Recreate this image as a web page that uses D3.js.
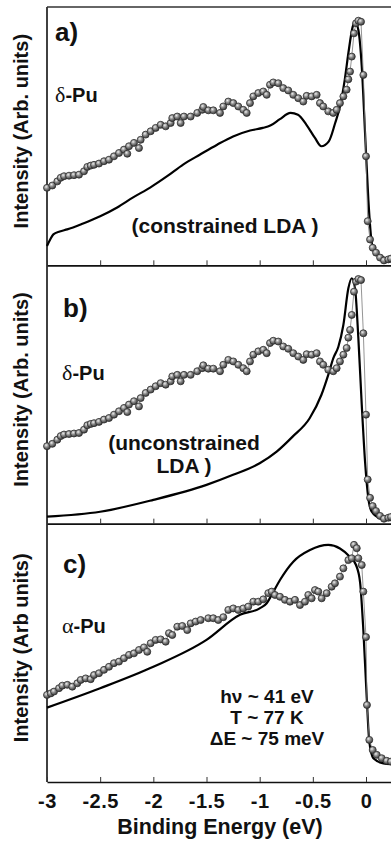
<!DOCTYPE html>
<html>
<head>
<meta charset="utf-8">
<script src="https://cdn.jsdelivr.net/npm/d3@7"></script>
<style>
  body { margin: 0; background: #fff; }
  svg { display: block; }
  text { font-family: "Liberation Sans", Arial, sans-serif; font-weight: bold; fill: #111; }
  .greek { font-family: "Liberation Serif", "DejaVu Serif", serif; font-weight: normal; }
</style>
</head>
<body>
<div id="chart"></div>
<script>
// binding energy ticks (eV)
const xTicks = [-3, -2.5, -2, -1.5, -1, -0.5, 0];

// measured photoemission, delta-Pu  [E (eV), intensity]
const deltaPuExp = [
  [-3.000,30.0],[-2.950,30.9],[-2.903,32.5],[-2.871,33.9],[-2.840,34.5],[-2.793,34.7],[-2.746,34.9],
  [-2.699,35.1],[-2.652,36.4],[-2.621,38.1],[-2.589,38.6],[-2.558,38.9],[-2.511,39.4],[-2.464,40.3],
  [-2.417,40.9],[-2.370,42.2],[-2.323,43.5],[-2.276,44.8],[-2.245,43.2],[-2.229,46.1],[-2.182,47.4],
  [-2.135,45.4],[-2.119,48.6],[-2.072,50.6],[-2.025,51.9],[-1.978,53.2],[-1.931,54.4],[-1.884,53.8],
  [-1.837,55.1],[-1.822,57.0],[-1.775,57.6],[-1.743,55.1],[-1.712,57.6],[-1.649,57.6],[-1.587,59.0],
  [-1.540,60.2],[-1.530,61.3],[-1.483,60.0],[-1.436,60.0],[-1.373,59.0],[-1.342,61.5],[-1.295,63.4],
  [-1.248,62.8],[-1.201,61.5],[-1.154,60.2],[-1.122,59.0],[-1.091,62.8],[-1.060,65.4],[-1.013,66.7],
  [-0.966,67.3],[-0.934,66.0],[-0.903,69.9],[-0.872,70.8],[-0.825,70.5],[-0.778,68.6],[-0.731,67.7],
  [-0.684,66.0],[-0.637,64.7],[-0.590,63.4],[-0.558,65.6],[-0.511,65.4],[-0.464,66.0],[-0.433,62.8],
  [-0.402,61.5],[-0.355,59.6],[-0.308,59.0],[-0.276,60.2],[-0.245,62.8],[-0.213,65.4],[-0.182,68.0],
  [-0.166,72.0],[-0.150,75.0],[-0.134,80.8],[-0.113,89.8],[-0.094,93.7],[-0.072,94.7],[-0.047,94.3],
  [-0.025,73.7],[0.000,42.2],[0.016,17.1],[0.038,10.0],[0.063,6.8],[0.094,4.9],[0.132,3.0],
  [0.169,1.9],[0.210,2.3],[0.235,2.6]
];

// measured photoemission, alpha-Pu
const alphaPuExp = [
  [-3.000,33.7],[-2.965,34.3],[-2.934,35.0],[-2.887,36.3],[-2.856,37.3],[-2.809,37.6],[-2.762,36.9],
  [-2.715,38.2],[-2.683,39.5],[-2.636,40.1],[-2.589,39.8],[-2.558,41.4],[-2.511,42.1],[-2.464,43.4],
  [-2.417,44.6],[-2.370,46.0],[-2.323,46.6],[-2.276,47.9],[-2.229,49.2],[-2.182,49.8],[-2.135,51.1],
  [-2.088,52.1],[-2.057,50.4],[-2.025,53.7],[-1.978,55.0],[-1.931,55.2],[-1.884,54.3],[-1.853,57.6],
  [-1.822,56.9],[-1.775,60.1],[-1.728,60.4],[-1.681,58.8],[-1.649,61.4],[-1.602,62.1],[-1.555,62.7],
  [-1.483,63.4],[-1.436,63.4],[-1.389,62.7],[-1.342,63.8],[-1.295,66.6],[-1.248,67.2],[-1.201,66.6],
  [-1.154,67.2],[-1.107,67.9],[-1.060,69.8],[-1.013,69.8],[-0.966,70.7],[-0.919,73.1],[-0.887,73.7],
  [-0.856,72.4],[-0.809,71.7],[-0.762,70.5],[-0.715,69.8],[-0.668,70.5],[-0.621,68.5],[-0.574,69.8],
  [-0.543,72.4],[-0.511,71.1],[-0.480,74.3],[-0.449,73.7],[-0.417,71.1],[-0.370,73.1],[-0.323,75.6],
  [-0.292,76.9],[-0.245,79.5],[-0.213,82.7],[-0.166,85.9],[-0.134,86.6],[-0.113,91.8],[-0.087,90.5],
  [-0.072,86.6],[-0.040,84.0],[-0.025,73.7],[0.000,56.1],[0.009,29.8],[0.031,16.3],[0.063,12.4],
  [0.101,10.5],[0.148,9.2],[0.195,8.2],[0.235,7.9]
];

// LDA spectra
const constrainedLDA = [
  [-3.000,7.5],[-2.970,10.0],[-2.940,12.0],[-2.880,13.1],[-2.810,13.9],[-2.660,16.2],[-2.500,19.0],
  [-2.340,22.4],[-2.190,26.3],[-2.030,30.1],[-1.870,34.5],[-1.720,39.0],[-1.560,42.9],[-1.400,46.7],
  [-1.250,49.9],[-1.090,52.2],[-0.970,53.2],[-0.900,54.1],[-0.810,56.6],[-0.710,59.0],[-0.640,58.3],
  [-0.560,54.4],[-0.480,49.3],[-0.420,46.1],[-0.350,48.0],[-0.290,55.1],[-0.245,61.5],[-0.200,71.8],
  [-0.166,82.1],[-0.125,92.4],[-0.103,94.3],[-0.072,91.1],[-0.040,77.0],[-0.009,51.2],[0.022,25.5],
  [0.054,8.8],[0.085,4.9],[0.163,3.0],[0.235,2.3]
];
const unconstrainedLDA = [
  [-3.000,2.7],[-2.500,4.6],[-2.000,9.2],[-1.500,15.0],[-1.250,18.9],[-1.000,23.4],[-0.840,27.9],
  [-0.690,33.7],[-0.530,40.8],[-0.420,49.8],[-0.355,57.6],[-0.308,64.0],[-0.260,68.5],[-0.213,76.9],
  [-0.166,91.1],[-0.134,95.0],[-0.103,91.1],[-0.072,71.8],[-0.040,46.0],[-0.009,24.0],[0.022,9.8],
  [0.054,4.6],[0.132,2.1],[0.235,1.4]
];
const alphaLDA = [
  [-3.000,28.8],[-2.500,36.3],[-2.000,44.6],[-1.500,55.0],[-1.185,64.7],[-1.000,67.2],[-0.934,69.2],
  [-0.887,72.4],[-0.809,78.2],[-0.684,85.3],[-0.527,89.8],[-0.355,91.8],[-0.245,90.4],[-0.150,87.1],
  [-0.094,84.0],[-0.056,77.4],[-0.025,58.8],[0.007,32.4],[0.031,15.6],[0.069,9.2],[0.163,7.2],
  [0.235,6.9]
];

const panelTags = ["a)", "b)", "c)"];
const sampleGreek = ["δ", "δ", "α"];
const yLabels = ["Intensity (Arb. units)", "Intensity (Arb. units)", "Intensity (Arb units)"];
const notes = [["(constrained LDA )"], ["(unconstrained", "LDA )"], ["hν ~ 41 eV", "T ~ 77 K", "ΔE ~ 75 meV"]];

const panels = [
  { exp: deltaPuExp, theory: constrainedLDA },
  { exp: deltaPuExp, theory: unconstrainedLDA },
  { exp: alphaPuExp, theory: alphaLDA }
];

const width = 391, height = 844;
const marginLeft = 47, marginTop = 7, panelH = 258.33;

const svg = d3.select("#chart").append("svg")
  .attr("width", width)
  .attr("height", height);

const defs = svg.append("defs");
const grad = defs.append("radialGradient")
  .attr("id", "ball").attr("cx", "38%").attr("cy", "35%").attr("r", "65%");
grad.append("stop").attr("offset", "0%").attr("stop-color", "#eeeeee");
grad.append("stop").attr("offset", "45%").attr("stop-color", "#8e8e8e");
grad.append("stop").attr("offset", "100%").attr("stop-color", "#3a3a3a");

const x = d3.scaleLinear().domain([-3, 0.235]).range([marginLeft, width]);

// left frame line
svg.append("line")
  .attr("x1", marginLeft).attr("x2", marginLeft)
  .attr("y1", marginTop).attr("y2", marginTop + 3 * panelH)
  .attr("stroke", "#111").attr("stroke-width", 1.6);

svg.append("line")
  .attr("x1", marginLeft).attr("x2", width)
  .attr("y1", marginTop).attr("y2", marginTop)
  .attr("stroke", "#333").attr("stroke-width", 1.4);

panels.forEach((p, i) => {
  const y0 = marginTop + i * panelH;
  const y = d3.scaleLinear().domain([0, 100]).range([y0 + panelH, y0]);
  const g = svg.append("g");

  // theory curve
  const theoryLine = d3.line()
    .x(d => x(d[0])).y(d => y(d[1]))
    .curve(d3.curveMonotoneX);
  g.append("path")
    .datum(p.theory)
    .attr("d", theoryLine)
    .attr("fill", "none")
    .attr("stroke", "#000")
    .attr("stroke-width", 2.2);

  // data: thin connecting line + spheres
  const expLine = d3.line().x(d => x(d[0])).y(d => y(d[1]));
  g.append("path")
    .datum(p.exp)
    .attr("d", expLine)
    .attr("fill", "none")
    .attr("stroke", "#7a7a7a")
    .attr("stroke-width", 0.8);

  g.selectAll("circle")
    .data(p.exp)
    .enter()
    .append("circle")
      .attr("cx", d => x(d[0]))
      .attr("cy", d => y(d[1]))
      .attr("r", 3.5)
      .attr("fill", "url(#ball)")
      .attr("stroke", "#2e2e2e")
      .attr("stroke-width", 0.8);

  // bottom axis, ticks pointing inward
  const axis = d3.axisBottom(x)
    .tickValues(xTicks)
    .tickSizeInner(-5)
    .tickSizeOuter(0)
    .tickPadding(12)
    .tickFormat(i === 2 ? (d => String(d)) : () => "");
  const ax = g.append("g")
    .attr("transform", `translate(0,${y0 + panelH})`)
    .call(axis);
  ax.select(".domain").attr("stroke", "#111").attr("stroke-width", 1.6);
  ax.selectAll(".tick line").attr("stroke", "#333").attr("stroke-width", 1);
  ax.selectAll(".tick text")
    .style("font-family", '"Liberation Sans", Arial, sans-serif')
    .style("font-weight", "bold")
    .style("font-size", "20px")
    .style("letter-spacing", "0.5px")
    .attr("fill", "#111");

  // panel letter
  const tagPos = [[55, 34], [63, 52], [63, 49]][i];
  g.append("text")
    .attr("x", tagPos[0]).attr("y", y0 + tagPos[1])
    .style("font-size", "26px")
    .text(panelTags[i]);

  // sample label
  const samplePos = [[55, 95], [62, 115], [62, 109]][i];
  const st = g.append("text")
    .attr("x", samplePos[0]).attr("y", y0 + samplePos[1])
    .style("font-size", "20px");
  st.append("tspan").attr("class", "greek").style("font-size", "22px").text(sampleGreek[i]);
  st.append("tspan").text("-Pu");

  // notes
  const notePos = [[225, [226]], [184, [185, 208]], [267, [179, 200, 221]]][i];
  notes[i].forEach((t, k) => {
    g.append("text")
      .attr("x", notePos[0]).attr("y", y0 + notePos[1][k])
      .attr("text-anchor", "middle")
      .style("font-size", i === 2 ? "19px" : "21px")
      .text(t);
  });

  // y label
  g.append("text")
    .attr("transform", `translate(28,${y0 + panelH / 2 - 5}) rotate(-90)`)
    .attr("text-anchor", "middle")
    .style("font-size", "20px")
    .text(yLabels[i]);
});

svg.append("text")
  .attr("x", 220).attr("y", 834)
  .attr("text-anchor", "middle")
  .style("font-size", "21.5px")
  .text("Binding Energy (eV)");
</script>
</body>
</html>
